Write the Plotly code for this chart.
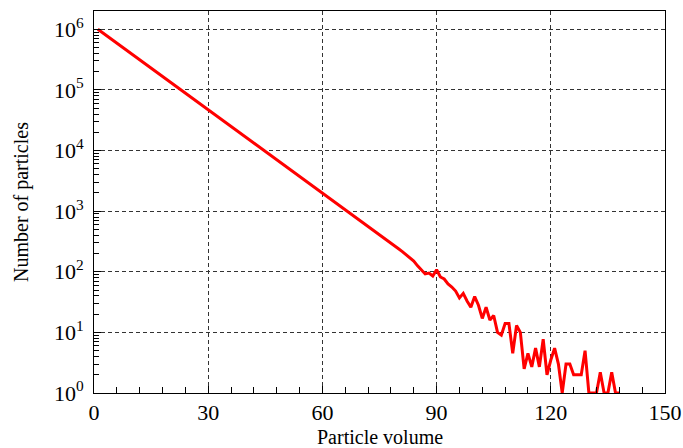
import plotly.graph_objects as go

# Particle volume (x) and number of particles (y)
volume = list(range(1, 139))
counts = [
    1000000, 900000, 810000, 729000, 656100, 590490, 531441, 478297, 430467, 387420,
    348678, 313811, 282430, 254187, 228768, 205891, 185302, 166772, 150095, 135085,
    121577, 109419, 98477, 88629, 79766, 71790, 64611, 58150, 52335, 47101,
    42391, 38152, 34337, 30903, 27813, 25032, 22528, 20276, 18248, 16423,
    14781, 13303, 11973, 10775, 9698, 8728, 7855, 7070, 6363, 5726,
    5154, 4638, 4175, 3757, 3381, 3043, 2739, 2465, 2219, 1997,
    1797, 1617, 1456, 1310, 1179, 1061, 955, 860, 774, 696,
    627, 564, 508, 457, 420, 375, 335, 300, 268, 240,
    215, 192, 172, 150, 125, 105, 92, 95, 85, 108,
    82, 76, 63, 56, 48, 37, 44, 33, 26, 39,
    28, 17, 26, 16, 19, 10, 9, 14, 14, 4.5,
    13, 10, 2.5, 4.5, 2.7, 5.5, 2.7, 7.7, 2, 3.5,
    5.5, 3, 1, 3, 3, 2, 2, 2, 5, 1,
    1, 1, 2.2, 1, 1, 2.2, 1, 1,
]

x_ticks = [0, 30, 60, 90, 120, 150]
y_tickvals = [1, 10, 100, 1000, 10000, 100000, 1000000]
y_ticktext = ["10<sup>%d</sup>" % i for i in range(7)]

font_family = "Liberation Serif, Times New Roman, serif"

fig = go.Figure()
fig.add_trace(go.Scatter(
    x=volume, y=counts, mode="lines",
    line=dict(color="#ff0000", width=3),
    showlegend=False,
))

fig.update_layout(
    width=683, height=448,
    margin=dict(l=94, r=18, t=11, b=55),
    paper_bgcolor="white", plot_bgcolor="white",
    font=dict(family=font_family, size=21, color="black"),
)

fig.update_xaxes(
    range=[0, 150],
    tickvals=x_ticks,
    ticks="inside", ticklen=7, tickcolor="black",
    showline=True, linecolor="black", linewidth=1, mirror=True,
    showgrid=True, gridcolor="#333333", gridwidth=1, griddash="4px,3px",
    zeroline=False, automargin=False,
    minor=dict(dtick=6, ticks="inside", ticklen=6, tickcolor="black", showgrid=False),
    tickfont=dict(size=22),
)

fig.update_yaxes(
    type="log",
    range=[0, 6.301],
    tickvals=y_tickvals, ticktext=y_ticktext,
    ticks="inside", ticklen=7, tickcolor="black",
    showline=True, linecolor="black", linewidth=1, mirror=True,
    showgrid=True, gridcolor="#333333", gridwidth=1, griddash="4px,3px",
    zeroline=False, automargin=False,
    minor=dict(dtick="D1", ticks="inside", ticklen=5, tickcolor="black", showgrid=False),
    tickfont=dict(size=22),
    ticklabelstandoff=5,
)

fig.add_annotation(
    text="Particle volume", xref="paper", yref="paper", x=0.5, y=0,
    yshift=-44, xanchor="center", yanchor="middle", showarrow=False,
    font=dict(size=20),
)
fig.add_annotation(
    text="Number of particles", xref="paper", yref="paper", x=0, y=0.5,
    xshift=-73, xanchor="center", yanchor="middle", textangle=-90, showarrow=False,
    font=dict(size=20),
)

fig.write_html("out.html", config={"displayModeBar": False},
               post_script="document.body.style.margin='0';")
